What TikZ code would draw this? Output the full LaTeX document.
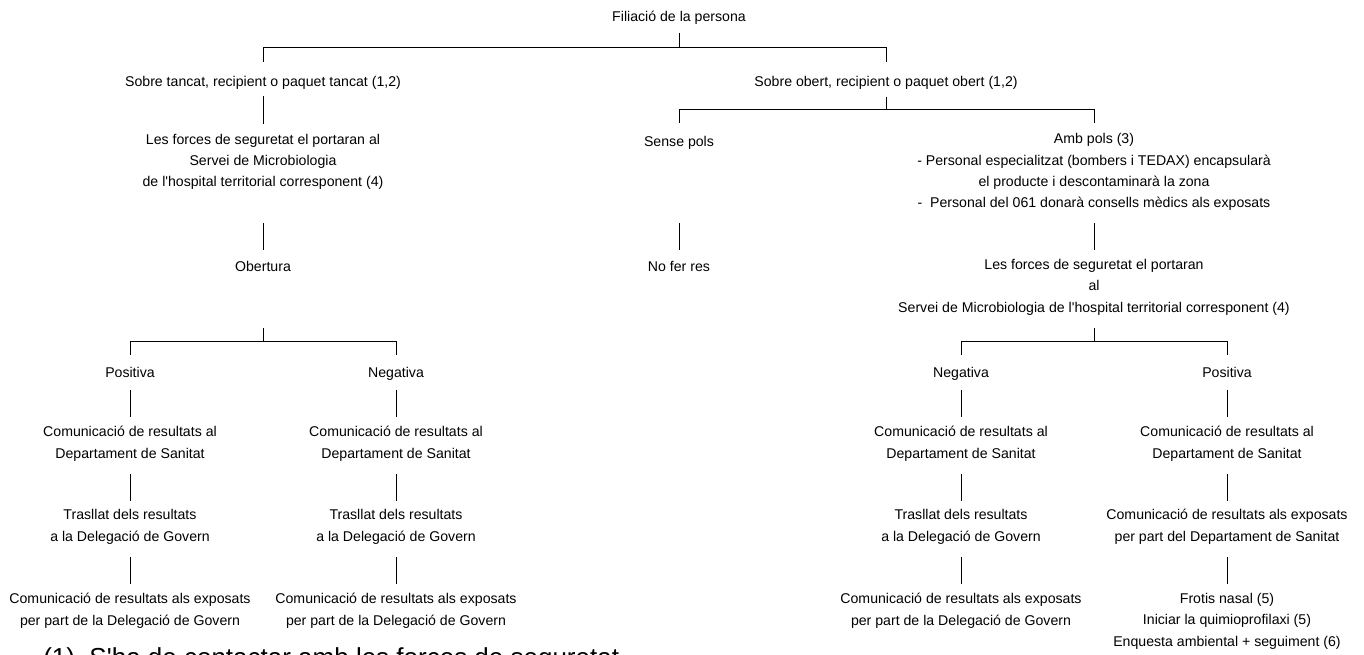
\documentclass[tikz,border=0pt]{standalone}
\usepackage{fontspec}
\setmainfont{Liberation Sans}[Ligatures=TeXOff]
\usetikzlibrary{calc}
\newcommand\nl{\\\strut}
\begin{document}
\begin{tikzpicture}[x=0.75pt,y=-0.75pt,
  lbl/.style={inner sep=0pt, align=center, font=\fontsize{10.6}{16}\selectfont, text=black, execute at begin node=\strut},
  conn/.style={draw=black, line width=0.75pt}]
\useasboundingbox (0,0) rectangle (1364,655);
\clip (0,0) rectangle (1364,655);
\fill[white] (0,0) rectangle (1364,655);

% level coordinates
\coordinate (h33) at (0,33);   \coordinate (h48) at (0,48);   \coordinate (h62) at (0,62);
\coordinate (h96) at (0,96);   \coordinate (h97) at (0,97);   \coordinate (h110) at (0,110);
\coordinate (h123) at (0,123); \coordinate (h124) at (0,124);
\coordinate (h223) at (0,223); \coordinate (h250) at (0,250);
\coordinate (h328) at (0,328); \coordinate (h342) at (0,342); \coordinate (h355) at (0,355);
\coordinate (h390) at (0,390); \coordinate (h417) at (0,417);
\coordinate (h474) at (0,474); \coordinate (h501) at (0,501);
\coordinate (h557) at (0,557); \coordinate (h584) at (0,584);

% nodes
\node[lbl] (fil) at (679,17) {Filiació de la persona};
\node[lbl] (tan) at (263,82) {Sobre tancat, recipient o paquet tancat (1,2)};
\node[lbl] (obe) at (886,82) {Sobre obert, recipient o paquet obert (1,2)};
\node[lbl] (forA) at (263,163.5) {Les forces de seguretat el portaran al\nl Servei de Microbiologia\nl de l'hospital territorial corresponent (4)};
\node[lbl] (sense) at (679,142) {Sense pols};
\node[lbl] (amb) at (1094,174) {Amb pols (3)\nl - Personal especialitzat (bombers i TEDAX) encapsularà\nl el producte i descontaminarà la zona\nl -\ \ Personal del 061 donarà consells mèdics als exposats};
\node[lbl] (obert) at (263,267) {Obertura};
\node[lbl] (nofer) at (679,267) {No fer res};
\node[lbl] (forB) at (1094,289) {Les forces de seguretat el portaran\nl al\nl Servei de Microbiologia de l'hospital territorial corresponent (4)};

\node[lbl] (posL) at (130,373) {Positiva};
\node[lbl] (negL) at (396,373) {Negativa};
\node[lbl] (negR) at (961,373) {Negativa};
\node[lbl] (posR) at (1227,373) {Positiva};

\node[lbl] (comPL) at (130,445.5) {Comunicació de resultats al\nl Departament de Sanitat};
\node[lbl] (comNL) at (396,445.5) {Comunicació de resultats al\nl Departament de Sanitat};
\node[lbl] (comNR) at (961,445.5) {Comunicació de resultats al\nl Departament de Sanitat};
\node[lbl] (comPR) at (1227,445.5) {Comunicació de resultats al\nl Departament de Sanitat};

\node[lbl] (traPL) at (130,528.5) {Trasllat dels resultats\nl a la Delegació de Govern};
\node[lbl] (traNL) at (396,528.5) {Trasllat dels resultats\nl a la Delegació de Govern};
\node[lbl] (traNR) at (961,528.5) {Trasllat dels resultats\nl a la Delegació de Govern};
\node[lbl] (expPR) at (1227,528.5) {Comunicació de resultats als exposats\nl per part del Departament de Sanitat};

\node[lbl] (expPL) at (130,612.5) {Comunicació de resultats als exposats\nl per part de la Delegació de Govern};
\node[lbl] (expNL) at (396,612.5) {Comunicació de resultats als exposats\nl per part de la Delegació de Govern};
\node[lbl] (expNR) at (961,612.5) {Comunicació de resultats als exposats\nl per part de la Delegació de Govern};
\node[lbl] (fro) at (1227,623) {Frotis nasal (5)\nl Iniciar la quimioprofilaxi (5)\nl Enquesta ambiental + seguiment (6)};

\node[inner sep=0pt, anchor=base west, font=\fontsize{19.5}{23}\selectfont, text=black] (fn) at (43,666.6) {(1)\hspace{0.556em}S'ha de contactar amb les forces de seguretat};

% branches
\draw[conn] (fil |- h33) -- (fil |- h48);
\draw[conn] (tan |- h62) -- (tan |- h48) -- (obe |- h48) -- (obe |- h62);

\draw[conn] (obe |- h97) -- (obe |- h110);
\draw[conn] (sense |- h123) -- (sense |- h110) -- (amb |- h110) -- (amb |- h123);

\draw[conn] (tan |- h96) -- (forA |- h124);
\draw[conn] (forA |- h223) -- (obert |- h250);
\draw[conn] (sense |- h223) -- (nofer |- h250);
\draw[conn] (amb |- h223) -- (forB |- h250);

\draw[conn] (obert |- h328) -- (obert |- h342);
\draw[conn] (posL |- h355) -- (posL |- h342) -- (negL |- h342) -- (negL |- h355);
\draw[conn] (forB |- h328) -- (forB |- h342);
\draw[conn] (negR |- h355) -- (negR |- h342) -- (posR |- h342) -- (posR |- h355);

\foreach \a/\b in {posL/comPL, negL/comNL, negR/comNR, posR/comPR}
  \draw[conn] (\a |- h390) -- (\b |- h417);
\foreach \a/\b in {comPL/traPL, comNL/traNL, comNR/traNR, comPR/expPR}
  \draw[conn] (\a |- h474) -- (\b |- h501);
\foreach \a/\b in {traPL/expPL, traNL/expNL, traNR/expNR, expPR/fro}
  \draw[conn] (\a |- h557) -- (\b |- h584);
\end{tikzpicture}
\end{document}
